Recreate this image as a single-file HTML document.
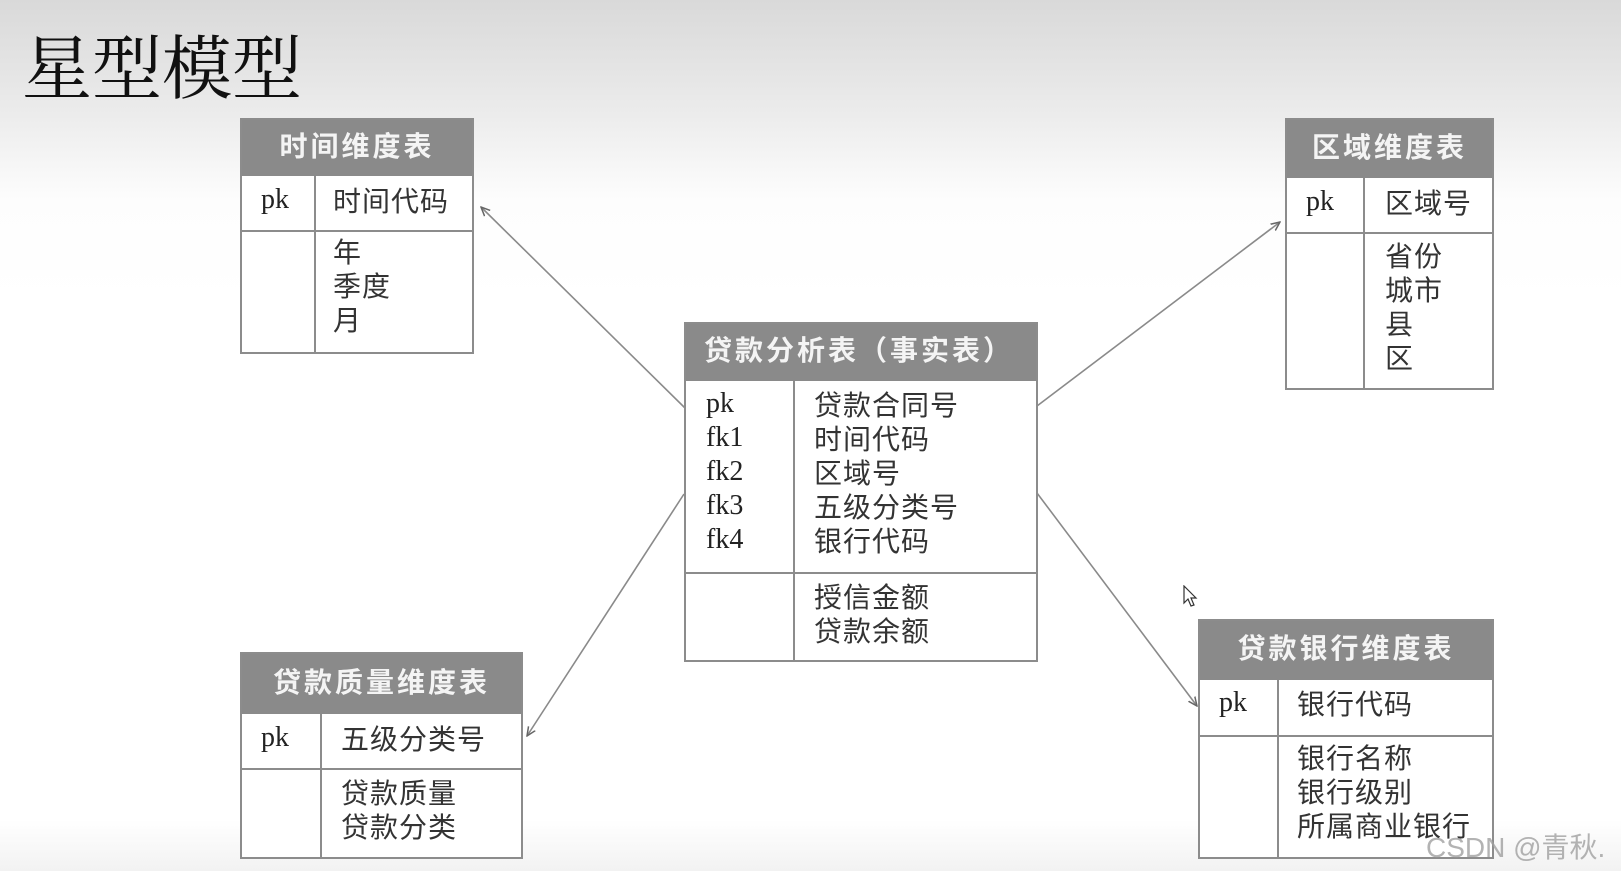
<!DOCTYPE html>
<html><head><meta charset="utf-8"><style>
body{margin:0;width:1621px;height:871px;overflow:hidden;position:relative;
background:linear-gradient(to bottom,#d9d9d9 0px,#ebebeb 110px,#fdfdfd 200px,#ffffff 300px,#ffffff 820px,#f2f2f2 871px);
font-family:"Liberation Serif","Noto Serif CJK SC","Noto Sans CJK SC",serif;}
.a{position:absolute}
.t{position:absolute;border:2px solid #8c8c8c;background:#fff;box-sizing:border-box}
.h{position:absolute;left:0;right:0;top:0;background:#8a8a8a;color:#f4f4f4;font-family:"Noto Sans CJK SC",sans-serif;font-weight:bold;font-size:28px;text-align:center;letter-spacing:3px}
.hl{position:absolute;left:0;right:0;height:2px;background:#8c8c8c}
.vl{position:absolute;width:2px;background:#8c8c8c}
.x{position:absolute;font-size:28px;color:#222;line-height:34px;white-space:nowrap;font-family:"Liberation Serif","Noto Sans CJK SC",serif}
.c{font-family:"Noto Sans CJK SC",sans-serif;font-size:28px;letter-spacing:1px;color:#333}
</style></head><body>
<div class="a" style="left:22px;top:22px;font-size:70px;line-height:84px;color:#111;font-family:'Noto Serif CJK SC',serif;">星型模型</div>

<svg class="a" style="left:0;top:0" width="1621" height="871">
<defs><marker id="m" markerWidth="10" markerHeight="10" refX="9" refY="5" orient="auto" markerUnits="userSpaceOnUse"><path d="M0,1 L9,5 L0,9" fill="none" stroke="#666" stroke-width="1.5"/></marker></defs>
<g stroke="#8a8a8a" stroke-width="1.6" fill="none">
<line x1="685" y1="408" x2="481" y2="207" marker-end="url(#m)"/>
<line x1="1037" y1="406" x2="1280" y2="222" marker-end="url(#m)"/>
<line x1="684" y1="494" x2="527" y2="736" marker-end="url(#m)"/>
<line x1="1037" y1="493" x2="1197" y2="706" marker-end="url(#m)"/>
</g></svg>

<!-- time -->
<div class="t" style="left:240px;top:118px;width:234px;height:236px">
<div class="h" style="height:56px;line-height:50px">时间维度表</div>
<div class="hl" style="top:110px"></div>
<div class="vl" style="left:72px;top:56px;bottom:0"></div>
<div class="x" style="left:19px;top:63px">pk</div>
<div class="x c" style="left:91px;top:63px">时间代码</div>
<div class="x c" style="left:91px;top:114px">年<br>季度<br>月</div>
</div>

<!-- region -->
<div class="t" style="left:1285px;top:118px;width:209px;height:272px">
<div class="h" style="height:58px;line-height:52px">区域维度表</div>
<div class="hl" style="top:112px"></div>
<div class="vl" style="left:76px;top:58px;bottom:0"></div>
<div class="x" style="left:19px;top:65px">pk</div>
<div class="x c" style="left:98px;top:65px">区域号</div>
<div class="x c" style="left:98px;top:118px">省份<br>城市<br>县<br>区</div>
</div>

<!-- fact -->
<div class="t" style="left:684px;top:322px;width:354px;height:340px">
<div class="h" style="height:57px;line-height:51px;text-align:left;padding-left:18px">贷款分析表（事实表）</div>
<div class="hl" style="top:248px"></div>
<div class="vl" style="left:107px;top:57px;bottom:0"></div>
<div class="x" style="left:20px;top:63px">pk<br>fk1<br>fk2<br>fk3<br>fk4</div>
<div class="x c" style="left:128px;top:63px">贷款合同号<br>时间代码<br>区域号<br>五级分类号<br>银行代码</div>
<div class="x c" style="left:128px;top:255px">授信金额<br>贷款余额</div>
</div>

<!-- quality -->
<div class="t" style="left:240px;top:652px;width:283px;height:207px">
<div class="h" style="height:60px;line-height:54px">贷款质量维度表</div>
<div class="hl" style="top:114px"></div>
<div class="vl" style="left:78px;top:60px;bottom:0"></div>
<div class="x" style="left:19px;top:67px">pk</div>
<div class="x c" style="left:99px;top:67px">五级分类号</div>
<div class="x c" style="left:99px;top:121px">贷款质量<br>贷款分类</div>
</div>

<!-- bank -->
<div class="t" style="left:1198px;top:619px;width:296px;height:240px">
<div class="h" style="height:59px;line-height:53px">贷款银行维度表</div>
<div class="hl" style="top:114px"></div>
<div class="vl" style="left:77px;top:59px;bottom:0"></div>
<div class="x" style="left:19px;top:65px">pk</div>
<div class="x c" style="left:97px;top:65px">银行代码</div>
<div class="x c" style="left:97px;top:119px">银行名称<br>银行级别<br>所属商业银行</div>
</div>

<div class="a" style="left:1426px;top:826px;font-family:'Liberation Sans','Noto Sans CJK SC',sans-serif;font-size:28px;color:rgba(160,160,160,0.8);white-space:nowrap">CSDN @青秋.</div>
<svg class="a" style="left:1183px;top:585px" width="16" height="24"><path d="M1,1 L1,18 L5,14 L8,21 L11,20 L8,13 L13,13 Z" fill="#fff" stroke="#333" stroke-width="1.2"/></svg>
</body></html>
